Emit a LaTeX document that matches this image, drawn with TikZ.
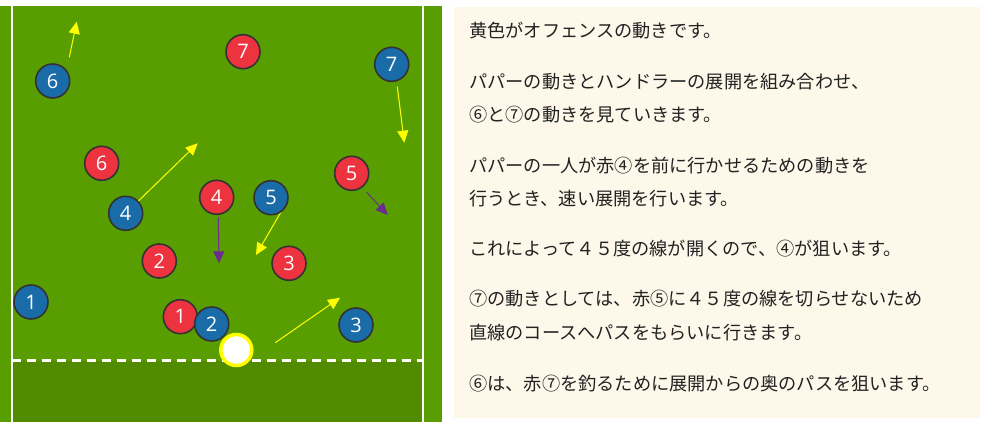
\documentclass[tikz,border=0pt]{standalone}
\usepackage{fontspec}
\setmainfont{Open Sans}
\newfontfamily\jpfont{Noto Sans CJK JP}
\usetikzlibrary{arrows.meta}
\definecolor{fieldgreen}{HTML}{599E00}
\definecolor{fielddark}{HTML}{518B00}
\definecolor{redplayer}{HTML}{EE3340}
\definecolor{blueplayer}{HTML}{1A6CA8}
\definecolor{rimgrey}{HTML}{333333}
\definecolor{movepurple}{HTML}{6A2C91}
\definecolor{moveyellow}{HTML}{FFFF00}
\definecolor{panelbg}{HTML}{FDF8EA}
\definecolor{inktext}{HTML}{222222}
\newcommand\circnum[1]{\makebox[1em][c]{#1}}
\tikzset{
  player/.style={circle, minimum size=34pt, inner sep=0pt, draw=rimgrey, line width=1.6pt,
    text=white, font=\fontsize{20}{20}\selectfont},
  redp/.style={player, fill=redplayer},
  bluep/.style={player, fill=blueplayer},
  ballnode/.style={circle, minimum size=31pt, inner sep=0pt, draw=moveyellow, line width=3.5pt, fill=white},
  yarrow/.style={draw=moveyellow, line width=1pt, -{Triangle[length=12pt,width=11pt]}},
  parrow/.style={draw=movepurple, line width=1pt, -{Triangle[length=12pt,width=11pt]}},
  txt/.style={anchor=west, inner sep=0pt, text=inktext, font=\jpfont\fontsize{18.2}{20}\selectfont},
}
\begin{document}
\begin{tikzpicture}[x=1pt,y=-1pt]
\useasboundingbox (0,0) rectangle (983,422);
\fill[white] (0,0) rectangle (983,422);
% field
\fill[fieldgreen] (0,6) rectangle (442,422);
\fill[fielddark] (12,361) rectangle (423,422);
\draw[white, line width=2pt] (12,6) -- (12,422);
\draw[white, line width=2pt] (423,6) -- (423,422);
\draw[white, line width=3pt, dash pattern=on 9pt off 6pt] (12,360) -- (423,360);
% arrow end coordinates
\coordinate (a6s) at (69.3,57.3);   \coordinate (a6e) at (76.7,21.7);
\coordinate (a4s) at (136.7,202.7); \coordinate (a4e) at (197.7,143.3);
\coordinate (a7s) at (397.3,86.7);  \coordinate (a7e) at (404.3,142.7);
\coordinate (a5s) at (281.7,210.7); \coordinate (a5e) at (256,255);
\coordinate (a3s) at (275.3,342.7); \coordinate (a3e) at (340,297.7);
\coordinate (r4s) at (218.3,217.3); \coordinate (r4e) at (219,263.3);
\coordinate (r5s) at (366.7,192.3); \coordinate (r5e) at (387.7,215);
% arrows
\draw[yarrow] (a6s) -- (a6e);
\draw[yarrow] (a4s) -- (a4e);
\draw[yarrow] (a7s) -- (a7e);
\draw[yarrow] (a5s) -- (a5e);
\draw[yarrow] (a3s) -- (a3e);
\draw[parrow] (r4s) -- (r4e);
\draw[parrow] (r5s) -- (r5e);
% players
\node[bluep] (b6) at (52.7,81) {6};
\node[redp]  (r7) at (243,51.7) {7};
\node[bluep] (b7) at (391.7,64.3) {7};
\node[redp]  (r6) at (101.7,163.3) {6};
\node[bluep] (b4) at (125.7,213.3) {4};
\node[redp]  (r4) at (216.7,197.3) {4};
\node[bluep] (b5) at (271,197.7) {5};
\node[redp]  (r5) at (351.7,173.3) {5};
\node[redp]  (r2) at (159.3,261) {2};
\node[redp]  (r3) at (289,263.3) {3};
\node[bluep] (b1) at (31,302) {1};
\node[redp]  (r1) at (180.3,316.7) {1};
\node[bluep] (b2) at (211.7,324) {2};
\node[bluep] (b3) at (356,325) {3};
\node[ballnode] (ball) at (236.3,350) {};
% text panel
\fill[panelbg] (454,7) rectangle (980,418);
\node[txt] (t1) at (469,31) {黄色がオフェンスの動きです。};
\node[txt] (t2) at (469,81.7) {パパーの動きとハンドラーの展開を組み合わせ、};
\node[txt] (t3) at (469,115) {\circnum{⑥}と\circnum{⑦}の動きを見ていきます。};
\node[txt] (t4) at (469,165.7) {パパーの一人が赤\circnum{④}を前に行かせるための動きを};
\node[txt] (t5) at (469,199) {行うとき、速い展開を行います。};
\node[txt] (t6) at (469,248.3) {これによって４５度の線が開くので、\circnum{④}が狙います。};
\node[txt] (t7) at (469,298.3) {\circnum{⑦}の動きとしては、赤\circnum{⑤}に４５度の線を切らせないため};
\node[txt] (t8) at (469,332.7) {直線のコースへパスをもらいに行きます。};
\node[txt] (t9) at (469,383.3) {\circnum{⑥}は、赤\circnum{⑦}を釣るために展開からの奥のパスを狙います。};
\end{tikzpicture}
\end{document}
